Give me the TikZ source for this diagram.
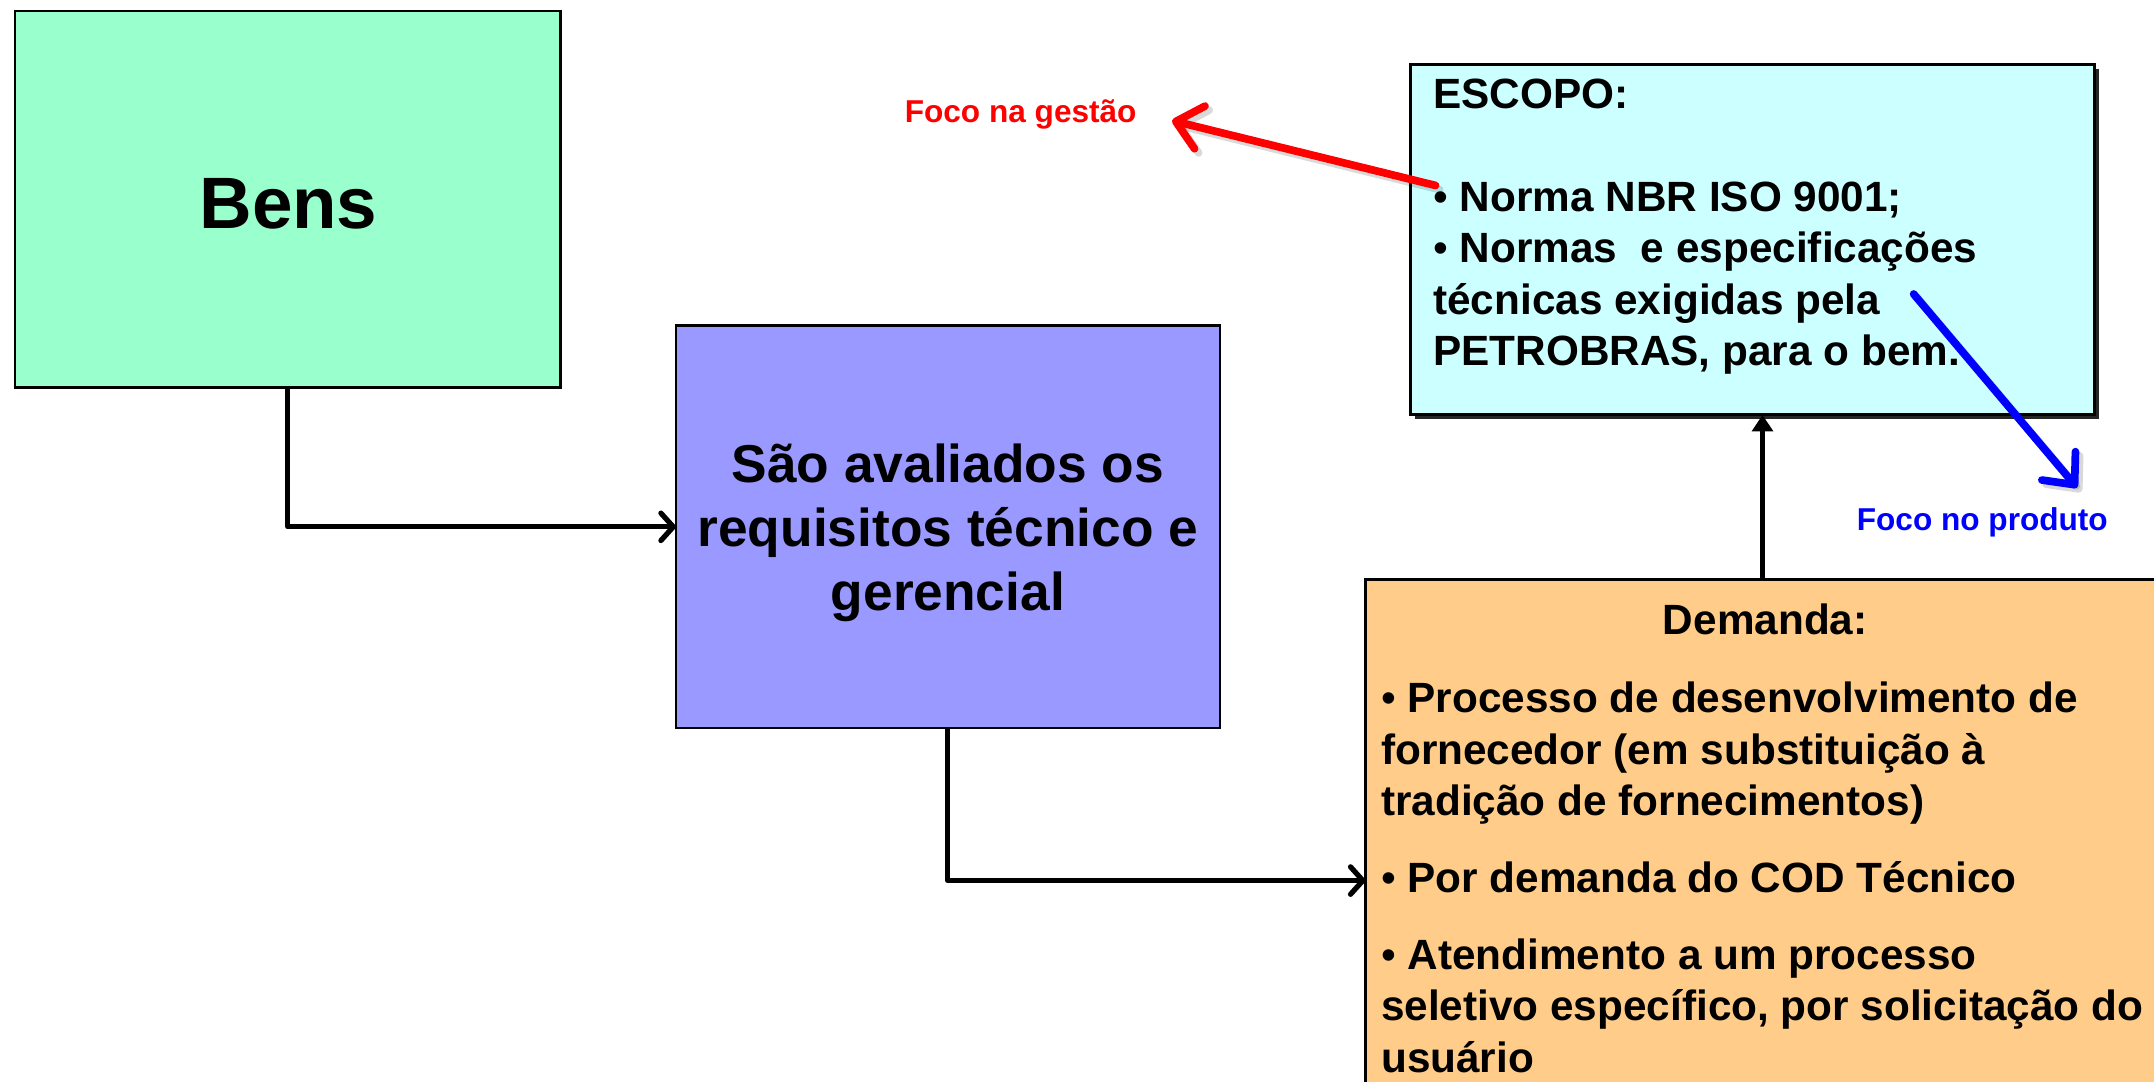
\documentclass[tikz,border=0pt]{standalone}
\usepackage{fontspec}
\setmainfont{Liberation Sans}
\usetikzlibrary{arrows.meta,shadows}
\definecolor{bensgreen}{HTML}{99FFCC}
\definecolor{avalpurple}{HTML}{9999FF}
\definecolor{escopocyan}{HTML}{CCFFFF}
\definecolor{demorange}{HTML}{FFCC8A}
\definecolor{notered}{HTML}{FF0000}
\definecolor{noteblue}{HTML}{0000FF}
\newcommand{\bul}{{\mdseries •}}
\begin{document}
\begin{tikzpicture}[x=0.5pt,y=-0.5pt,
  box/.style={draw=black,line width=0.9pt,inner sep=0pt,outer sep=0pt},
  conn/.style={line width=1.9pt,line join=round,-{Straight Barb[length=4.5pt,width=10pt,round]}},
  upconn/.style={line width=1.9pt,-{Triangle[length=6pt,width=7.5pt]}},
  note/.style={line width=2.8pt,line cap=round,-{Straight Barb[length=9pt,width=16pt,round]}},
  noteshadow/.style={note,draw=black,opacity=0.15},
  bigtxt/.style={font=\fontsize{26.5}{30}\selectfont\bfseries},
  midtxt/.style={font=\fontsize{19.4}{23.25}\selectfont\bfseries,align=center,inner sep=0pt},
  bodytxt/.style={font=\fontsize{15.4}{18.75}\selectfont\bfseries,align=left,inner sep=0pt},
  notetxt/.style={font=\fontsize{11.5}{14}\selectfont\bfseries,inner sep=3pt}
]
\useasboundingbox (0,0) rectangle (1568,787);
\clip (0,0) rectangle (1568,787);

% boxes
\node[box,fill=bensgreen,minimum width=198.5pt,minimum height=137pt] (bens) at (209.5,145) {};
\node[bigtxt] (benstxt) at (210,148) {Bens};

\node[box,fill=avalpurple,minimum width=198pt,minimum height=146.5pt] (aval) at (690,383.5) {};
\node[midtxt] (avaltxt) at (690,388) {São avaliados os\\requisitos técnico e\\gerencial};

\node[box,fill=escopocyan,line width=1.1pt,minimum width=249pt,minimum height=127.5pt,
      drop shadow={shadow xshift=1.6pt,shadow yshift=-1.6pt,fill=black!85,opacity=1}] (esc) at (1276,174.5) {};
\node[bodytxt,anchor=north west] (esctxt) at (1043,57) {ESCOPO:\\[18.75pt]%
\bul{} Norma NBR ISO 9001;\\
\bul{} Normas\ \ e especificações\\
técnicas exigidas pela\\
PETROBRAS, para o bem.};

\node[box,fill=demorange,line width=1.1pt,minimum width=303pt,minimum height=199pt] (dem) at (1297,621) {};
\node[bodytxt,anchor=north] (demtit) at (1285,439) {Demanda:};
\node[bodytxt,anchor=north west] (demtxt) at (1005,496) {\bul{} Processo de desenvolvimento de\\
fornecedor (em substituição à\\
tradição de fornecimentos)\\[9.25pt]
\bul{} Por demanda do COD Técnico\\[9.25pt]
\bul{} Atendimento a um processo\\
seletivo específico, por solicitação do\\
usuário};

% connectors
\draw[conn] (bens.south) |- (aval.west);
\draw[conn] (aval.south) |- ([yshift=-10pt]dem.west);
\draw[upconn] ([xshift=-7pt]dem.north) -- ([xshift=3.5pt]esc.south);

% annotations
\node[notetxt,text=notered] (gest) at (743,83) {Foco na gestão};
\node[notetxt,text=noteblue] (prod) at (1443,380) {Foco no produto};
\coordinate (rstart) at (1045,135);
\coordinate (bstart) at (1393,214);
\coordinate (btip) at (1512,355);

\draw[noteshadow,shorten >=10pt,transform canvas={xshift=1.5pt,yshift=-1.5pt}] (rstart) -- (gest.east);
\draw[note,draw=notered,shorten >=10pt] (rstart) -- (gest.east);
\draw[noteshadow,transform canvas={xshift=1.5pt,yshift=-1.5pt}] (bstart) -- (btip);
\draw[note,draw=noteblue] (bstart) -- (btip);
\end{tikzpicture}
\end{document}
